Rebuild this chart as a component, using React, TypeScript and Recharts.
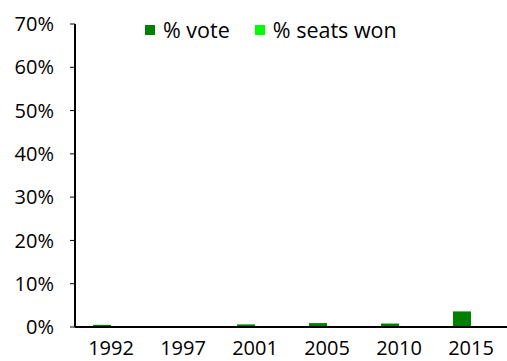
import { BarChart, Bar, XAxis, YAxis } from "recharts";

const YEARS = ["1992", "1997", "2001", "2005", "2010", "2015"];
const VOTE = [0.5, 0, 0.6, 0.9, 0.8, 3.6];
const SEATS = [0, 0, 0, 0, 0, 0];
const Y_TICKS = [0, 10, 20, 30, 40, 50, 60, 70];
const SERIES = [
  { key: "vote", label: "% vote", color: "#008000" },
  { key: "seats", label: "% seats won", color: "#00ff00" },
];

const FONT = "'Open Sans', 'DejaVu Sans', sans-serif";

const data = YEARS.map((year, i) => ({ year, vote: VOTE[i], seats: SEATS[i] }));

export default function App() {
  return (
    <div style={{ position: "absolute", left: 0, top: 0, width: 507, height: 361, background: "#fff" }}>
      <BarChart
        width={507}
        height={361}
        data={data}
        margin={{ top: 24, right: 0, bottom: 0, left: 0 }}
        barCategoryGap="25%"
        barGap={0}
      >
        <YAxis
          domain={[0, 70]}
          ticks={Y_TICKS}
          width={75}
          tickFormatter={(v: number) => `${v}%`}
          tick={{ fill: "#000", fontSize: 20, fontFamily: FONT }}
          tickSize={5}
          tickMargin={16}
          axisLine={{ stroke: "#000", strokeWidth: 2 }}
          tickLine={{ stroke: "#000", strokeWidth: 1 }}
        />
        <XAxis
          dataKey="year"
          height={34}
          tick={{ fill: "#000", fontSize: 20, fontFamily: FONT }}
          tickLine={false}
          tickSize={5}
          tickMargin={9}
          axisLine={{ stroke: "#000", strokeWidth: 2 }}
        />
        {SERIES.map((s) => (
          <Bar key={s.key} dataKey={s.key} name={s.label} fill={s.color} isAnimationActive={false} />
        ))}
      </BarChart>
      <div
        style={{
          position: "absolute",
          top: 16,
          left: 145,
          display: "flex",
          fontFamily: FONT,
          fontSize: 21.5,
          lineHeight: "28px",
          color: "#000",
        }}
      >
        {SERIES.map((s) => (
          <div key={s.key} style={{ display: "flex", alignItems: "center", marginRight: 25 }}>
            <span style={{ width: 10, height: 10, background: s.color, marginRight: 8, display: "inline-block" }} />
            <span>{s.label}</span>
          </div>
        ))}
      </div>
    </div>
  );
}
